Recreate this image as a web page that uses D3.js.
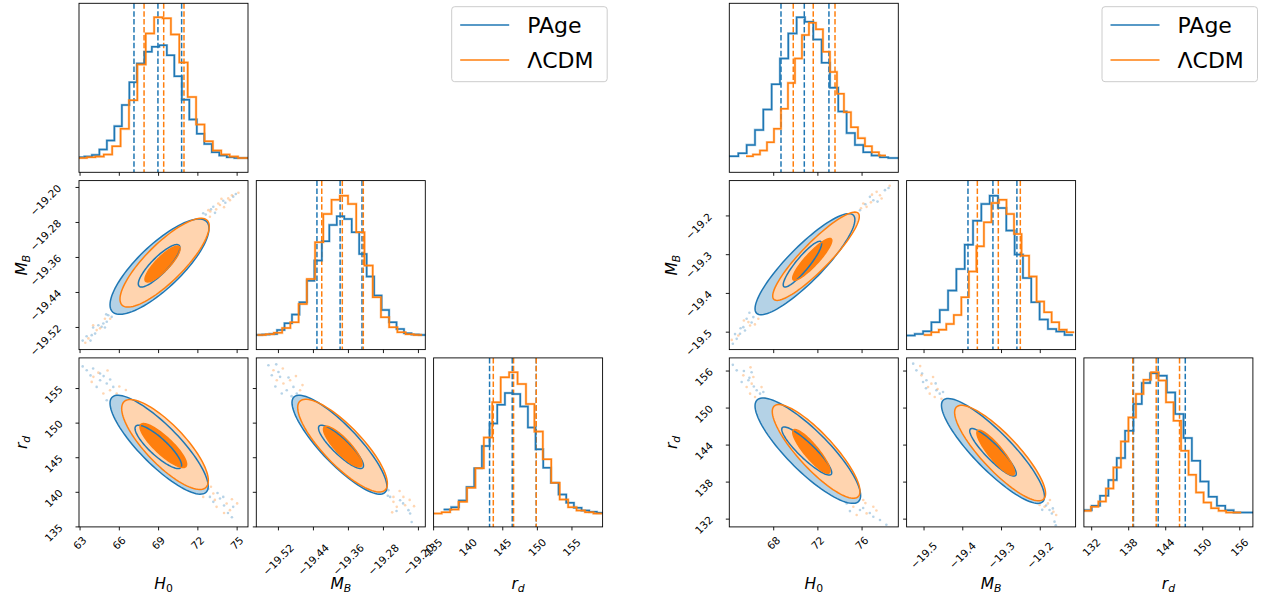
<!DOCTYPE html>
<html><head><meta charset="utf-8">
<script src="https://cdn.jsdelivr.net/npm/d3@7"></script>
<style>body{margin:0;background:#fff} text{font-family:"DejaVu Sans",sans-serif;fill:#000}</style>
</head><body><svg id="c" width="1262" height="601"></svg>
<script>
// ---------------- DATA ----------------
const seriesNames = ["PAge", "ΛCDM"];
const seriesColors = ["#1f77b4", "#ff7f0e"];
const seriesLight = ["#b4d2e6", "#ffd4af"];
const paramLabels = [["H", "0"], ["M", "B"], ["r", "d"]];

// axis limits & ticks
const limitsLeft = [[62.92, 75.83], [-19.5706, -19.1843], [135.0, 159.43]];
const limitsRight = [[63.98, 79.28], [-19.545, -19.1088], [130.74, 158.13]];
const ticksLeft = [[63, 66, 69, 72, 75], [-19.52, -19.44, -19.36, -19.28, -19.20], [135, 140, 145, 150, 155]];
const ticksRight = [[68, 72, 76], [-19.5, -19.4, -19.3, -19.2], [132, 138, 144, 150, 156]];
const tickFormatsLeft = ["d", ".2f", "d"];
const tickFormatsRight = ["d", ".1f", "d"];

// 1D histograms: first bin edge, bin width, heights (% of panel height)
const histL_H0_PAge = {start: 62.76, width: 0.5725, h: [8.9, 9.3, 10.3, 13.5, 18.8, 27.3, 39.8, 53.3, 64.4, 71.3, 74.3, 75.2, 69.3, 56.8, 43.0, 31.3, 22.8, 16.8, 11.9, 9.9, 8.9, 8.5, 8.5]};
const histL_H0_LCDM = {start: 62.89, width: 0.641, h: [8.5, 8.9, 9.3, 10.5, 15.4, 25.7, 42.6, 63.8, 82.2, 91.7, 91.1, 81.6, 65.0, 44.6, 28.3, 18.4, 12.9, 10.5, 9.3, 8.5, 8.5]};
const histL_MB_PAge = {start: -19.5744, width: 0.01707, h: [8.7, 8.9, 9.3, 11.6, 15.6, 20.7, 28.0, 40.8, 52.7, 64.1, 73.8, 78.9, 77.3, 69.4, 56.6, 43.2, 32.0, 23.5, 16.2, 12.2, 9.7, 8.9, 8.7]};
const histL_MB_LCDM = {start: -19.568, width: 0.01882, h: [8.7, 9.1, 9.9, 12.8, 16.2, 27.0, 41.8, 63.5, 80.3, 88.6, 91.1, 86.2, 69.4, 49.7, 31.0, 19.1, 13.2, 10.3, 9.1, 8.7]};
const histL_rd_PAge = {start: 136.445, width: 1.108, h: [10.3, 11.7, 15.6, 23.6, 34.7, 47.9, 61.2, 72.3, 79.2, 78.6, 71.3, 58.8, 45.9, 35.0, 26.1, 19.2, 14.3, 11.3, 9.7, 8.9, 8.3]};
const histL_rd_LCDM = {start: 134.95, width: 1.2186, h: [7.9, 8.7, 10.3, 14.9, 23.2, 34.7, 52.9, 73.7, 88.5, 91.5, 84.6, 72.7, 56.4, 40.0, 26.1, 16.2, 11.7, 9.7, 8.7, 7.9]};
const histR_H0_PAge = {start: 63.29, width: 0.754, h: [9.5, 9.5, 11.3, 16.2, 25.1, 37.2, 52.1, 67.3, 82.2, 91.7, 89.1, 78.6, 64.8, 50.1, 36.0, 23.2, 16.2, 11.9, 9.9, 8.9, 8.5, 8.5]};
const histR_H0_LCDM = {start: 65.49, width: 0.6335, h: [9.5, 10.5, 12.9, 17.8, 25.7, 37.6, 52.9, 67.3, 81.2, 88.5, 84.6, 71.3, 59.4, 46.5, 35.6, 26.7, 20.2, 15.4, 11.9, 9.9]};
const histR_MB_PAge = {start: -19.5454, width: 0.02148, h: [8.3, 9.3, 10.8, 16.2, 23.5, 34.9, 47.7, 62.1, 76.3, 86.2, 91.1, 83.8, 70.4, 56.2, 42.4, 28.0, 17.8, 12.2, 10.7, 8.7]};
const histR_MB_LCDM = {start: -19.5008, width: 0.01942, h: [8.7, 10.3, 11.8, 15.2, 20.5, 31.0, 46.2, 61.1, 75.3, 86.8, 88.6, 80.3, 68.4, 55.6, 43.2, 28.4, 22.1, 16.2, 11.8, 10.3]};
const histR_rd_PAge = {start: 130.65, width: 1.353, h: [9.9, 12.5, 18.4, 27.7, 40.7, 56.9, 72.7, 85.2, 90.9, 89.5, 79.6, 66.8, 52.6, 39.1, 26.9, 17.8, 12.5, 9.9, 8.5, 8.5, 8.5]};
const histR_rd_LCDM = {start: 130.65, width: 1.218, h: [9.5, 11.9, 15.0, 22.7, 35.2, 50.6, 64.8, 78.7, 87.0, 91.5, 86.6, 73.7, 62.8, 45.1, 30.8, 20.4, 14.4, 11.1, 9.5, 8.5, 8.5]};

// 16 / 50 / 84 % quantiles
const qL_H0_PAge = [67.12, 68.95, 70.76], qL_H0_LCDM = [67.89, 69.39, 70.94];
const qL_MB_PAge = [-19.432, -19.379, -19.329], qL_MB_LCDM = [-19.421, -19.374, -19.326];
const qL_rd_PAge = [143.09, 146.37, 149.84], qL_rd_LCDM = [143.63, 146.56, 149.84];
const qR_H0_PAge = [68.66, 70.77, 73.0], qR_H0_LCDM = [69.77, 71.58, 73.55];
const qR_MB_PAge = [-19.3866, -19.3222, -19.2603], qR_MB_LCDM = [-19.3624, -19.3083, -19.2515];
const qR_rd_PAge = [138.77, 142.78, 147.17], qR_rd_LCDM = [138.66, 142.46, 146.24];

// 2D credible contours: [centerX, centerY, halfWidthX, halfHeightY, correlation]  (outer, inner)
const cL_H0MB_PAge = [[69.07, -19.381, 3.78, 0.109, 0.80], [69.04, -19.379, 1.59, 0.0485, 0.85]];
const cL_H0MB_LCDM = [[69.46, -19.372, 3.41, 0.1015, 0.82], [69.3, -19.375, 1.34, 0.041, 0.85]];
const cL_H0rd_PAge = [[69.04, 146.88, 3.75, 7.15, -0.84], [68.98, 146.57, 1.78, 3.13, -0.85]];
const cL_H0rd_LCDM = [[69.49, 146.91, 3.31, 6.5, -0.80], [69.36, 146.76, 1.78, 3.18, -0.85]];
const cL_MBrd_PAge = [[-19.3805, 146.88, 0.1085, 7.15, -0.85], [-19.377, 146.57, 0.0514, 3.13, -0.87]];
const cL_MBrd_LCDM = [[-19.3735, 146.75, 0.1025, 6.7, -0.82], [-19.373, 146.61, 0.044, 2.94, -0.85]];
const cR_H0MB_PAge = [[70.83, -19.3245, 4.52, 0.1305, 0.88], [70.6, -19.3245, 1.74, 0.059, 0.9]];
const cR_H0MB_LCDM = [[71.83, -19.304, 3.92, 0.114, 0.9], [71.49, -19.312, 1.77, 0.054, 0.9]];
const cR_H0rd_PAge = [[71.09, 143.09, 4.78, 8.54, -0.85], [70.99, 143.04, 2.26, 3.9, -0.9]];
const cR_H0rd_LCDM = [[71.84, 142.97, 3.97, 7.6, -0.85], [71.41, 142.97, 1.69, 3.55, -0.88]];
const cR_MBrd_PAge = [[-19.322, 143.05, 0.133, 8.5, -0.87], [-19.322, 142.83, 0.060, 3.85, -0.9]];
const cR_MBrd_LCDM = [[-19.3037, 142.71, 0.1174, 7.74, -0.85], [-19.315, 142.77, 0.0486, 3.64, -0.88]];

// samples outside the contours
const pL_H0MB_PAge = [[72.41,-19.259],[73.18,-19.244],[73.94,-19.2305],[74.70,-19.221],[73.31,-19.258],[65.42,-19.4957],[64.65,-19.5185],[63.89,-19.5376],[64.78,-19.511],[65.16,-19.492],[64.15,-19.534],[65.04,-19.507],[63.2,-19.55],[63.5,-19.54],[64.0,-19.52],[64.4,-19.515],[65.0,-19.49],[64.9,-19.52],[63.8,-19.55],[74.9,-19.215],[74.1,-19.235],[73.0,-19.25],[72.6,-19.262]];
const pL_H0MB_LCDM = [[72.80,-19.2518],[73.56,-19.2366],[74.32,-19.225],[72.92,-19.267],[73.69,-19.240],[74.45,-19.229],[64.27,-19.526],[63.64,-19.545],[64.53,-19.522],[65.3,-19.50],[75.1,-19.212],[74.6,-19.218],[73.8,-19.226],[73.4,-19.25],[74.0,-19.245],[72.95,-19.255],[64.0,-19.515],[64.9,-19.50],[63.4,-19.555]];
const pL_H0rd_PAge = [[63.51,157.65],[64.53,156.20],[65.04,155.72],[64.53,157.17],[65.54,155.24],[65.04,153.31],[64.27,155.24],[72.67,140.31],[73.69,139.10],[74.70,137.90],[72.92,139.34],[73.94,139.34],[73.18,138.62],[63.2,158.2],[64.0,157.9],[64.8,156.8],[65.3,156.3],[63.8,156.9],[65.6,153.8],[74.3,137.0],[74.0,138.1],[72.8,140.5],[73.5,139.9],[74.6,136.4]];
const pL_H0rd_LCDM = [[64.02,156.69],[64.78,154.28],[65.29,154.76],[63.89,155.96],[65.80,154.28],[73.18,139.83],[74.20,138.38],[73.43,137.90],[74.45,137.42],[72.41,139.34],[64.4,157.3],[65.1,157.6],[66.0,155.3],[66.5,154.8],[73.0,140.8],[74.6,139.0],[75.0,138.4],[74.0,137.0],[73.3,138.9]];
const pL_MBrd_PAge = [[-19.5429,158.37],[-19.5162,156.69],[-19.501,154.76],[-19.4857,155.24],[-19.4781,154.28],[-19.5352,156.93],[-19.5124,154.28],[-19.2686,140.31],[-19.2419,138.86],[-19.2228,137.42],[-19.2647,139.34],[-19.219,136.94],[-19.525,158.5],[-19.52,157.4],[-19.497,156.6],[-19.49,153.9],[-19.527,155.3],[-19.2155,135.7],[-19.25,137.3],[-19.235,138.4],[-19.27,139.5]];
const pL_MBrd_LCDM = [[-19.5314,157.65],[-19.5086,155.72],[-19.4933,156.20],[-19.5238,156.20],[-19.4705,154.76],[-19.2571,139.34],[-19.2304,138.14],[-19.2495,137.90],[-19.2343,139.34],[-19.2571,138.62],[-19.51,157.9],[-19.48,156.8],[-19.465,155.5],[-19.243,140.2],[-19.22,138.9],[-19.21,138.0],[-19.26,137.1]];
const pR_H0MB_PAge = [[75.81,-19.1853],[77.02,-19.1595],[78.07,-19.1335],[76.71,-19.1508],[75.51,-19.1939],[66.16,-19.4611],[65.25,-19.4870],[64.65,-19.5172],[65.40,-19.4956],[65.55,-19.4654],[64.95,-19.5042],[78.4,-19.128],[77.4,-19.163],[76.3,-19.17],[66.0,-19.475],[65.0,-19.49],[64.3,-19.53],[64.5,-19.505],[65.8,-19.45]];
const pR_H0MB_LCDM = [[76.41,-19.1766],[77.62,-19.1465],[76.11,-19.168],[77.32,-19.1379],[77.77,-19.1551],[65.71,-19.4740],[65.86,-19.4827],[66.61,-19.4654],[64.80,-19.5085],[78.5,-19.122],[76.9,-19.145],[75.9,-19.18],[76.8,-19.165],[65.3,-19.47],[66.3,-19.48],[64.2,-19.52]];
const pR_H0rd_PAge = [[64.65,156.11],[65.71,154.50],[66.46,152.88],[66.76,152.34],[65.10,154.23],[67.06,152.61],[74.60,134.55],[75.81,133.47],[77.02,132.39],[75.21,135.63],[77.62,131.86],[64.3,157.0],[65.3,156.0],[66.0,155.8],[65.8,154.9],[66.2,153.5],[76.1,133.8],[75.0,134.7],[76.7,133.0],[78.2,131.1],[74.9,133.3]];
const pR_H0rd_LCDM = [[65.25,155.30],[66.01,153.96],[66.16,155.03],[65.55,153.42],[66.31,151.80],[65.86,152.34],[75.21,134.01],[76.41,132.93],[76.11,135.09],[77.02,134.01],[75.51,132.66],[65.9,156.6],[66.9,153.4],[67.2,151.6],[76.3,134.6],[77.3,133.4],[75.8,135.7],[74.9,135.2]];
const pR_MBrd_PAge = [[-19.5197,156.11],[-19.4939,154.50],[-19.4681,152.88],[-19.4595,152.34],[-19.5025,154.23],[-19.451,152.61],[-19.1932,135.09],[-19.1675,133.74],[-19.1761,133.47],[-19.1632,131.59],[-19.528,157.2],[-19.505,155.6],[-19.47,154.0],[-19.495,153.2],[-19.185,134.2],[-19.17,132.9],[-19.195,133.5],[-19.16,131.0]];
const pR_MBrd_LCDM = [[-19.5068,155.30],[-19.4810,153.96],[-19.4767,155.03],[-19.4896,153.42],[-19.4724,151.80],[-19.4853,152.34],[-19.1803,134.55],[-19.1589,132.66],[-19.189,134.01],[-19.2018,134.28],[-19.51,156.8],[-19.465,153.1],[-19.455,151.5],[-19.198,135.6],[-19.175,135.1],[-19.166,133.2]];

// ---------------- LAYOUT ----------------
const SIZE = 169, STEP = 177.3, TOP = 3.3;
const figures = [
  {left: 79, legendX: 451.7, limits: limitsLeft, ticks: ticksLeft, fmts: tickFormatsLeft,
   hists: [[histL_H0_PAge, histL_H0_LCDM], [histL_MB_PAge, histL_MB_LCDM], [histL_rd_PAge, histL_rd_LCDM]],
   quants: [[qL_H0_PAge, qL_H0_LCDM], [qL_MB_PAge, qL_MB_LCDM], [qL_rd_PAge, qL_rd_LCDM]],
   contours: {"1,0": [cL_H0MB_PAge, cL_H0MB_LCDM], "2,0": [cL_H0rd_PAge, cL_H0rd_LCDM], "2,1": [cL_MBrd_PAge, cL_MBrd_LCDM]},
   points: {"1,0": [pL_H0MB_PAge, pL_H0MB_LCDM], "2,0": [pL_H0rd_PAge, pL_H0rd_LCDM], "2,1": [pL_MBrd_PAge, pL_MBrd_LCDM]}},
  {left: 729.3, legendX: 1102, limits: limitsRight, ticks: ticksRight, fmts: tickFormatsRight,
   hists: [[histR_H0_PAge, histR_H0_LCDM], [histR_MB_PAge, histR_MB_LCDM], [histR_rd_PAge, histR_rd_LCDM]],
   quants: [[qR_H0_PAge, qR_H0_LCDM], [qR_MB_PAge, qR_MB_LCDM], [qR_rd_PAge, qR_rd_LCDM]],
   contours: {"1,0": [cR_H0MB_PAge, cR_H0MB_LCDM], "2,0": [cR_H0rd_PAge, cR_H0rd_LCDM], "2,1": [cR_MBrd_PAge, cR_MBrd_LCDM]},
   points: {"1,0": [pR_H0MB_PAge, pR_H0MB_LCDM], "2,0": [pR_H0rd_PAge, pR_H0rd_LCDM], "2,1": [pR_MBrd_PAge, pR_MBrd_LCDM]}}
];

const svg = d3.select("#c");
const defs = svg.append("defs");
let clipId = 0;
const TICK_FS = 10.5;

function ellipsePath(e, sx, sy) {
  const [cx, cy, hx, hy, rho] = e;
  const s = Math.sqrt(1 - rho * rho);
  const pts = d3.range(0, 97).map(i => {
    const t = i / 96 * 2 * Math.PI;
    return [sx(cx + hx * Math.cos(t)), sy(cy + hy * (rho * Math.cos(t) + s * Math.sin(t)))];
  });
  return d3.line()(pts) + "Z";
}

function subLabel(sel, parts, fs) {
  sel.attr("font-size", fs);
  sel.append("tspan").attr("font-style", "italic").text(parts[0]);
  const isDigit = /[0-9]/.test(parts[1]);
  sel.append("tspan").attr("font-style", isDigit ? "normal" : "italic")
     .attr("font-size", fs * 0.7).attr("dy", fs * 0.22).text(parts[1]);
}

function xTickLabels(g, scale, ticks, fmt, bottom) {
  ticks.forEach(v => {
    const t = g.append("text").attr("font-size", TICK_FS).attr("text-anchor", "end").text(d3.format(fmt)(v));
    const L = t.node().getComputedTextLength();
    const bx = scale(v) + (L + 7) / 2.83, by = bottom + 10 + 0.3 * L;
    t.attr("transform", `translate(${bx},${by}) rotate(-45)`);
  });
}
function yTickLabels(g, scale, ticks, fmt, left) {
  ticks.forEach(v => {
    const t = g.append("text").attr("font-size", TICK_FS).attr("text-anchor", "end").text(d3.format(fmt)(v));
    const L = t.node().getComputedTextLength();
    const bx = left - 14 - 0.08 * L, by = scale(v) + 1.5;
    t.attr("transform", `translate(${bx},${by}) rotate(-45)`);
  });
}

figures.forEach(fig => {
  const root = svg.append("g");
  for (let row = 0; row < 3; row++) {
    for (let col = 0; col <= row; col++) {
      const x0 = fig.left + col * STEP, y0 = TOP + row * STEP;
      const sx = d3.scaleLinear().domain(fig.limits[col]).range([x0, x0 + SIZE]);
      const g = root.append("g");
      const id = "clip" + (clipId++);
      defs.append("clipPath").attr("id", id).append("rect").attr("x", x0).attr("y", y0).attr("width", SIZE).attr("height", SIZE);
      const inner = g.append("g").attr("clip-path", `url(#${id})`);
      let sy = null;
      if (row === col) {
        const hy = d3.scaleLinear().domain([0, 100]).range([y0 + SIZE, y0]);
        fig.quants[col].forEach((q, si) => {
          inner.selectAll(null).data(q).enter().append("line")
            .attr("x1", d => sx(d)).attr("x2", d => sx(d)).attr("y1", y0).attr("y2", y0 + SIZE)
            .attr("stroke", seriesColors[si]).attr("stroke-width", 1.5).attr("stroke-dasharray", "5.5,2.4");
        });
        fig.hists[col].forEach((hs, si) => {
          let d = "";
          hs.h.forEach((v, i) => {
            const a = sx(hs.start + i * hs.width), b = sx(hs.start + (i + 1) * hs.width);
            d += (i === 0 ? `M${a},${hy(v)}` : `V${hy(v)}`) + `H${b}`;
          });
          inner.append("path").attr("d", d).attr("fill", "none").attr("stroke", seriesColors[si])
            .attr("stroke-opacity", 0.35).attr("stroke-width", 2.6);
          inner.append("path").attr("d", d).attr("fill", "none").attr("stroke", seriesColors[si])
            .attr("stroke-width", 1.5);
        });
      } else {
        sy = d3.scaleLinear().domain(fig.limits[row]).range([y0 + SIZE, y0]);
        const key = row + "," + col;
        fig.points[key].forEach((pts, si) => {
          inner.selectAll(null).data(pts).enter().append("circle")
            .attr("cx", d => sx(d[0])).attr("cy", d => sy(d[1])).attr("r", 1.3)
            .attr("fill", seriesColors[si]).attr("fill-opacity", 0.32);
        });
        const cs = fig.contours[key];
        cs.forEach((c, si) => {
          inner.append("path").attr("d", ellipsePath(c[0], sx, sy)).attr("fill", seriesLight[si]);
          inner.append("path").attr("d", ellipsePath(c[1], sx, sy)).attr("fill", seriesColors[si]);
        });
        cs.forEach((c, si) => {
          c.forEach(e => inner.append("path").attr("d", ellipsePath(e, sx, sy)).attr("fill", "none")
            .attr("stroke", seriesColors[si]).attr("stroke-width", 1.5));
        });
      }
      g.append("rect").attr("x", x0).attr("y", y0).attr("width", SIZE).attr("height", SIZE)
        .attr("fill", "none").attr("stroke", "#000").attr("stroke-width", 0.9);
      const bottom = y0 + SIZE;
      g.selectAll(null).data(fig.ticks[col]).enter().append("line")
        .attr("x1", d => sx(d)).attr("x2", d => sx(d)).attr("y1", bottom).attr("y2", bottom + 3.5)
        .attr("stroke", "#000").attr("stroke-width", 0.9);
      if (row === 2) {
        xTickLabels(g, sx, fig.ticks[col], fig.fmts[col], bottom);
        subLabel(g.append("text").attr("x", x0 + SIZE / 2).attr("y", 589).attr("text-anchor", "middle"), paramLabels[col], 15.5);
      }
      if (row !== col) {
        g.selectAll(null).data(fig.ticks[row]).enter().append("line")
          .attr("x1", x0 - 3.5).attr("x2", x0).attr("y1", d => sy(d)).attr("y2", d => sy(d))
          .attr("stroke", "#000").attr("stroke-width", 0.9);
        if (col === 0) {
          yTickLabels(g, sy, fig.ticks[row], fig.fmts[row], x0);
          subLabel(g.append("text").attr("text-anchor", "middle")
            .attr("transform", `translate(${x0 - 52.5},${y0 + SIZE / 2}) rotate(-90)`), paramLabels[row], 15.5);
        }
      }
    }
  }
  const lg = root.append("g");
  const lx = fig.legendX, ly = 6.7;
  lg.append("rect").attr("x", lx).attr("y", ly).attr("width", 155.5).attr("height", 75).attr("rx", 3)
    .attr("fill", "#fff").attr("fill-opacity", 0.8).attr("stroke", "#ccc").attr("stroke-width", 1);
  seriesNames.forEach((name, i) => {
    const yy = ly + 18.3 + i * 35;
    lg.append("line").attr("x1", lx + 8.5).attr("x2", lx + 57.5).attr("y1", yy).attr("y2", yy)
      .attr("stroke", seriesColors[i]).attr("stroke-width", 1.5);
    lg.append("text").attr("x", lx + 75.5).attr("y", yy + 8.3).attr("font-size", 22).text(name);
  });
});
</script>
</body></html>
